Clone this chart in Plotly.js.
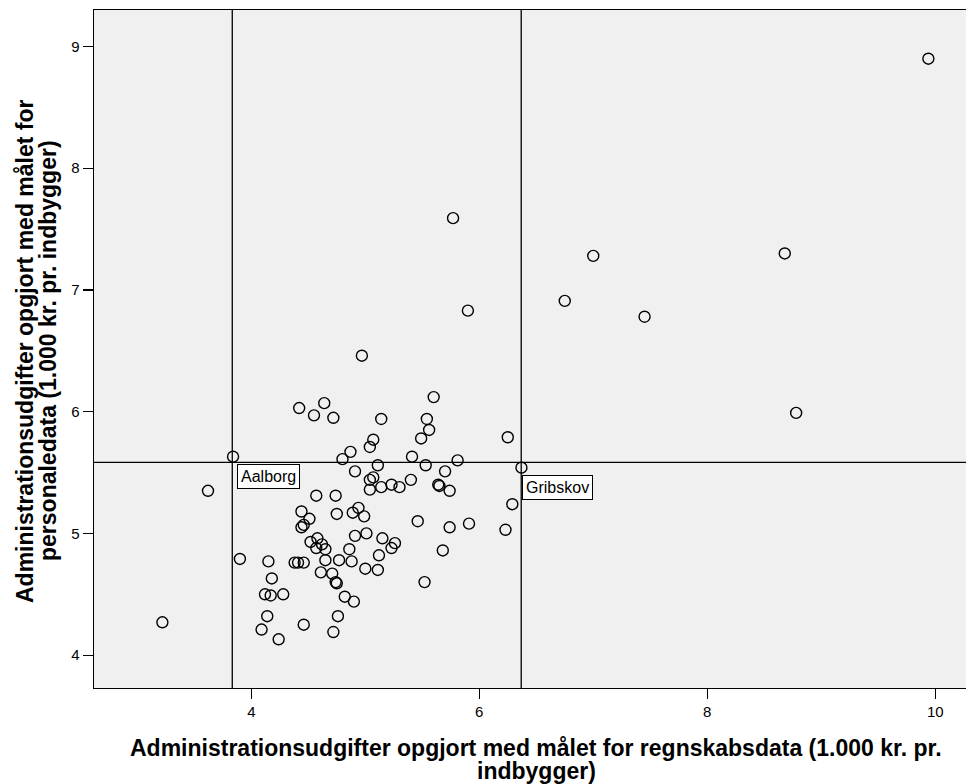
<!DOCTYPE html>
<html>
<head>
<meta charset="utf-8">
<script src="https://cdn.plot.ly/plotly-3.0.1.min.js"></script>
<style>html,body{margin:0;padding:0;background:#fff;}#chart{width:966px;height:784px;}</style>
</head>
<body>
<div id="chart"></div>
<script>
// Regnskabsdata (x) vs personaledata (y), 1.000 kr. pr. indbygger
const regnskab = [
  9.94, 8.68, 7.45, 8.78, 7.00, 6.75, 5.77, 5.90, 4.97, 5.60, 6.25, 6.37, 6.29, 6.23, 5.91, 5.68, 5.52, 3.84, 3.62, 3.90, 3.22,
  4.42, 4.64, 4.55, 4.72, 5.14, 5.54, 5.56, 5.07, 5.04, 5.49, 5.41, 5.53, 5.81, 5.11, 5.70, 5.07, 5.04, 5.04, 5.14, 5.23,
  5.30, 5.40, 5.64, 5.65, 5.74, 4.87, 4.80, 4.91, 4.57, 4.74, 4.44, 4.51, 4.46, 4.44, 4.75, 4.89, 4.94, 4.99, 5.46, 5.74,
  5.01, 4.91, 5.15, 5.26, 5.23, 5.12, 4.52, 4.58, 4.62, 4.57, 4.65, 4.86, 4.38, 4.41, 4.46, 4.15, 4.65, 4.77, 4.88, 5.00,
  5.11, 4.61, 4.71, 4.74, 4.75, 4.18, 4.12, 4.17, 4.28, 4.82, 4.90, 4.14, 4.76, 4.09, 4.46, 4.72, 4.24
];
const personale = [
  8.90, 7.30, 6.78, 5.99, 7.28, 6.91, 7.59, 6.83, 6.46, 6.12, 5.79, 5.54, 5.24, 5.03, 5.08, 4.86, 4.60, 5.63, 5.35, 4.79, 4.27,
  6.03, 6.07, 5.97, 5.95, 5.94, 5.94, 5.85, 5.77, 5.71, 5.78, 5.63, 5.56, 5.60, 5.56, 5.51, 5.46, 5.44, 5.36, 5.38, 5.40,
  5.38, 5.44, 5.40, 5.39, 5.35, 5.67, 5.61, 5.51, 5.31, 5.31, 5.18, 5.12, 5.07, 5.05, 5.16, 5.17, 5.21, 5.14, 5.10, 5.05,
  5.00, 4.98, 4.96, 4.92, 4.88, 4.82, 4.93, 4.96, 4.91, 4.88, 4.87, 4.87, 4.76, 4.76, 4.76, 4.77, 4.78, 4.78, 4.77, 4.71,
  4.70, 4.68, 4.67, 4.60, 4.59, 4.63, 4.50, 4.49, 4.50, 4.48, 4.44, 4.32, 4.32, 4.21, 4.25, 4.19, 4.13
];
const labelNames = ["Aalborg", "Gribskov"];
const labelX = [3.84, 6.37];
const labelY = [5.63, 5.54];
const refX = [3.833, 6.368];   // vertical reference lines
const refY = [5.584];          // horizontal reference line
const xTicks = [4, 6, 8, 10];
const yTicks = [4, 5, 6, 7, 8, 9];
const xTitleLines = ["Administrationsudgifter opgjort med målet for regnskabsdata (1.000 kr. pr.", "indbygger)"];
const yTitleLines = ["Administrationsudgifter opgjort med målet for", "personaledata (1.000 kr. pr. indbygger)"];

const FONT = "Liberation Sans, Arial, sans-serif";
const W = 966, H = 784, ML = 94, MR = 0, MT = 10, MB = 96;
const PW = W - ML - MR, PH = H - MT - MB;
const px2x = p => (p - ML) / PW;
const px2y = p => (H - MB - p) / PH;

const trace = {
  x: regnskab, y: personale, type: "scatter", mode: "markers",
  marker: {symbol: "circle-open", size: 11, color: "#000", line: {width: 1.4, color: "#000"}},
  hoverinfo: "x+y", showlegend: false
};

const shapes = [];
refX.forEach(v => shapes.push({type: "line", xref: "x", yref: "paper", x0: v, x1: v, y0: 0, y1: 1, line: {color: "#000", width: 1.3}}));
refY.forEach(v => shapes.push({type: "line", xref: "paper", yref: "y", x0: 0, x1: 1, y0: v, y1: v, line: {color: "#000", width: 1.3}}));

const shiftX = [4, 1];
const annotations = labelNames.map((n, i) => ({
  x: labelX[i], y: labelY[i], xref: "x", yref: "y", text: n, showarrow: false,
  xanchor: "left", yanchor: "top", xshift: shiftX[i], yshift: -7,
  bgcolor: "#fff", bordercolor: "#000", borderwidth: 1, borderpad: 3,
  font: {family: FONT, size: 16, color: "#000"}
}));
const titleFont = {family: FONT, size: 23, color: "#000", weight: "bold"};
const xTitleY = [748, 771];
xTitleLines.forEach((t, i) => annotations.push({
  xref: "paper", yref: "paper", x: px2x(536), y: px2y(xTitleY[i]), xanchor: "center", yanchor: "middle",
  text: t, showarrow: false, font: titleFont
}));
const yTitleX = [25, 48];
yTitleLines.forEach((t, i) => annotations.push({
  xref: "paper", yref: "paper", x: px2x(yTitleX[i]), y: px2y(351), xanchor: "center", yanchor: "middle",
  textangle: -90, text: t, showarrow: false, font: titleFont
}));

const axisCommon = {
  ticks: "outside", ticklen: 10, tickwidth: 1.2, tickcolor: "#000",
  showgrid: false, zeroline: false, showline: true, linecolor: "#000", linewidth: 1.3, mirror: true,
  tickfont: {family: FONT, size: 15, color: "#000"}
};

const layout = {
  width: W, height: H,
  margin: {l: ML, r: MR, t: MT, b: MB, pad: 0},
  paper_bgcolor: "#fff", plot_bgcolor: "#F0F0F0",
  font: {family: FONT, size: 15, color: "#000"},
  xaxis: Object.assign({range: [2.62, 10.27], tickvals: xTicks, ticktext: xTicks.map(String)}, axisCommon),
  yaxis: Object.assign({range: [3.73, 9.30], tickvals: yTicks, ticktext: yTicks.map(String)}, axisCommon),
  shapes: shapes,
  annotations: annotations
};

Plotly.newPlot("chart", [trace], layout, {displayModeBar: false, staticPlot: true});
</script>
</body>
</html>
